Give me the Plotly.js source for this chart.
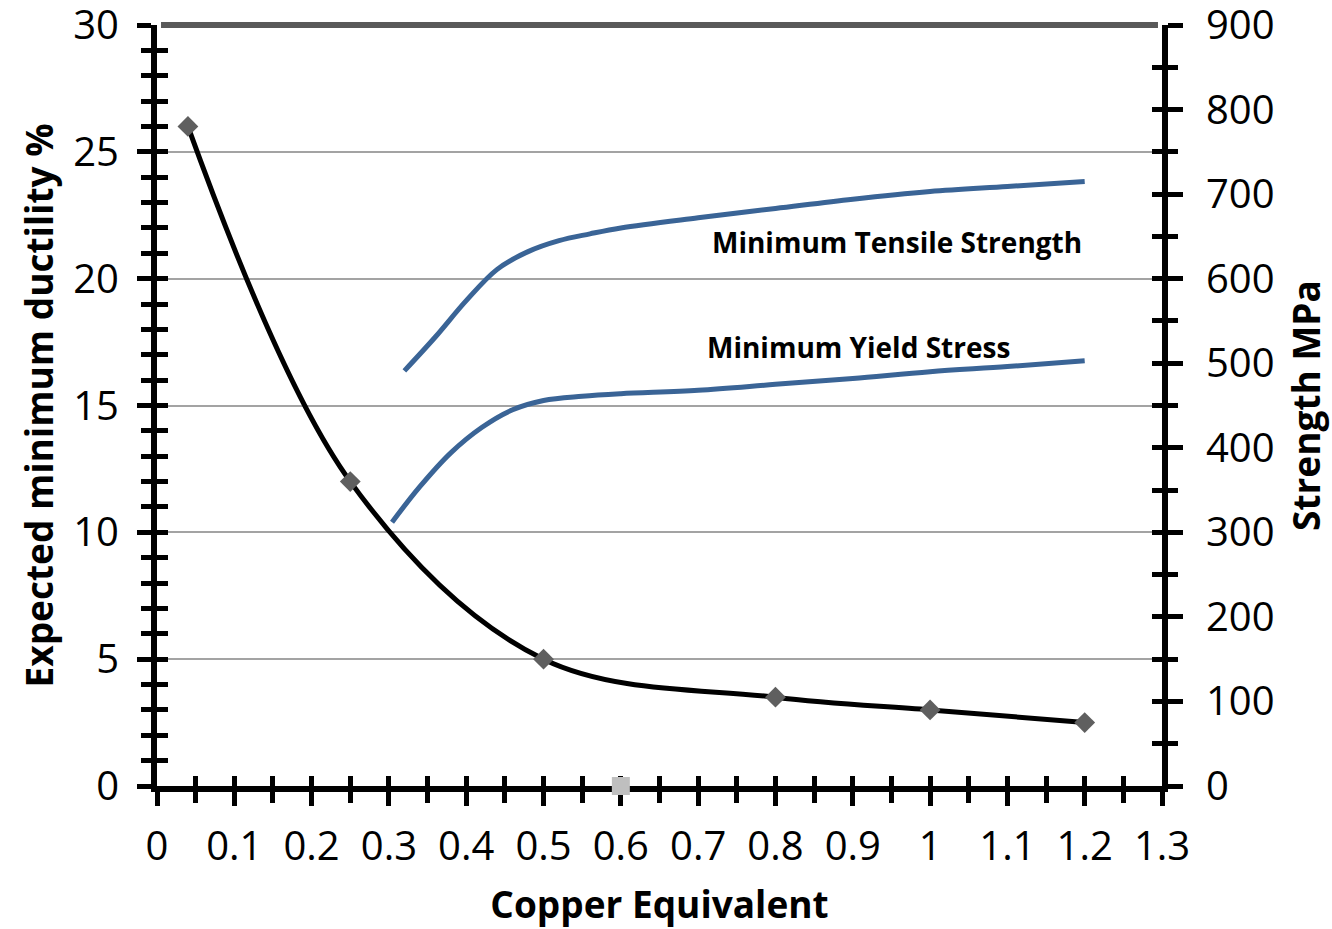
<!DOCTYPE html>
<html>
<head>
<meta charset="utf-8">
<script src="https://cdn.plot.ly/plotly-3.0.1.min.js"></script>
<style>html,body{margin:0;padding:0;background:#fff;}#chart{width:1332px;height:929px;}</style>
</head>
<body>
<div id="chart"></div>
<script>
// Ductility data (left axis, %)
const ductCE = [0.04, 0.25, 0.5, 0.8, 1.0, 1.2];
const ductVal = [26, 12, 5, 3.5, 3, 2.5];
// Extra grey point
const greyCE = [0.6];
const greyVal = [0];
// Minimum tensile strength (right axis, MPa)
const tensCE = [0.32, 0.36, 0.40, 0.44, 0.48, 0.52, 0.56, 0.60, 0.70, 0.80, 0.90, 1.00, 1.10, 1.20];
const tensVal = [491, 531, 574, 611, 632, 645, 653, 660, 672, 683, 694, 703, 709, 715];
// Minimum yield stress (right axis, MPa)
const yieldCE = [0.304, 0.34, 0.38, 0.42, 0.46, 0.50, 0.55, 0.60, 0.70, 0.80, 0.90, 1.00, 1.10, 1.20];
const yieldVal = [312, 354, 394, 424, 445, 456, 461, 464, 468, 475, 482, 490, 496, 503];
// Labels
const xTitle = "Copper Equivalent";
const yTitle = "Expected minimum ductility %";
const y2Title = "Strength MPa";
const tensLabel = "Minimum Tensile Strength";
const yieldLabel = "Minimum Yield Stress";

const FONT = "Open Sans, Liberation Sans, sans-serif";
const BLUE = "#3a6496";

const traces = [
  {x: tensCE, y: tensVal, xaxis: 'x', yaxis: 'y2', mode: 'lines', name: tensLabel,
   line: {color: BLUE, width: 5, shape: 'spline', smoothing: 1}},
  {x: yieldCE, y: yieldVal, xaxis: 'x', yaxis: 'y2', mode: 'lines', name: yieldLabel,
   line: {color: BLUE, width: 5, shape: 'spline', smoothing: 1}},
  {x: ductCE, y: ductVal, xaxis: 'x', yaxis: 'y', mode: 'lines+markers', name: 'Ductility',
   line: {color: '#000', width: 5, shape: 'spline', smoothing: 1},
   marker: {symbol: 'diamond', size: 16, color: '#5f5f5f'}},
  {x: greyCE, y: greyVal, xaxis: 'x', yaxis: 'y', mode: 'markers', name: 'point', cliponaxis: false,
   marker: {symbol: 'square', size: 18, color: '#bfbfbf'}},
  // empty helper traces so the overlay tick axes are drawn
  {x: [null], y: [null], xaxis: 'x2', yaxis: 'y3', mode: 'markers', hoverinfo: 'skip'},
  {x: [null], y: [null], xaxis: 'x3', yaxis: 'y4', mode: 'markers', hoverinfo: 'skip'}
];

const tickFont = {family: FONT, size: 40, color: '#000'};
const titleFont = {family: FONT, size: 37, color: '#000', weight: 'bold'};

const layout = {
  width: 1332, height: 929,
  margin: {l: 157, r: 170, t: 25, b: 143},
  paper_bgcolor: '#fff', plot_bgcolor: '#fff',
  showlegend: false,
  xaxis: {
    range: [0, 1.3], dtick: 0.1, tick0: 0,
    showgrid: false, zeroline: false,
    showline: true, linecolor: '#000', linewidth: 6,
    ticks: 'outside', ticklen: 14, tickwidth: 5, tickcolor: '#000',
    minor: {dtick: 0.05, ticks: 'outside', ticklen: 11, tickwidth: 5, tickcolor: '#000', showgrid: false},
    tickfont: tickFont, ticklabelstandoff: 6, ticklabeloverflow: 'allow',
    title: {text: xTitle, font: titleFont, standoff: 37},
    layer: 'below traces'
  },
  xaxis2: {
    overlaying: 'x', anchor: 'y', side: 'bottom', range: [0, 1.3], dtick: 0.1, tick0: 0,
    showgrid: false, zeroline: false, showline: false, showticklabels: false,
    ticks: 'inside', ticklen: 10, tickwidth: 5, tickcolor: '#000',
    minor: {dtick: 0.05, ticks: 'inside', ticklen: 10, tickwidth: 5, tickcolor: '#000', showgrid: false},
    layer: 'below traces'
  },
  xaxis3: {
    overlaying: 'x', anchor: 'y', side: 'top', range: [0, 1.3],
    showgrid: false, zeroline: false, showline: false,
    ticks: '', showticklabels: false, layer: 'below traces'
  },
  yaxis: {
    range: [0, 30], dtick: 5, tick0: 0,
    showgrid: true, gridcolor: '#a3a3a3', gridwidth: 2, zeroline: false,
    showline: true, linecolor: '#000', linewidth: 6,
    ticks: 'outside', ticklen: 14, tickwidth: 5, tickcolor: '#000',
    minor: {dtick: 1, ticks: 'outside', ticklen: 10, tickwidth: 5, tickcolor: '#000', showgrid: false},
    tickfont: tickFont, ticklabelstandoff: 10, ticklabeloverflow: 'allow',
    title: {text: yTitle, font: titleFont, standoff: 10},
    layer: 'below traces'
  },
  yaxis3: {
    overlaying: 'y', anchor: 'x', side: 'left', range: [0, 30], dtick: 5, tick0: 0,
    showgrid: false, zeroline: false, showline: false, showticklabels: false,
    ticks: 'inside', ticklen: 11, tickwidth: 5, tickcolor: '#000',
    minor: {dtick: 1, ticks: 'inside', ticklen: 11, tickwidth: 5, tickcolor: '#000', showgrid: false},
    layer: 'below traces'
  },
  yaxis2: {
    overlaying: 'y', anchor: 'x', side: 'right', range: [0, 900], dtick: 100, tick0: 0,
    showgrid: false, zeroline: false,
    showline: true, linecolor: '#000', linewidth: 6,
    ticks: 'outside', ticklen: 15, tickwidth: 5, tickcolor: '#000',
    minor: {dtick: 50, ticks: 'outside', ticklen: 10, tickwidth: 5, tickcolor: '#000', showgrid: false},
    tickfont: tickFont, ticklabelstandoff: 15, ticklabeloverflow: 'allow',
    title: {text: y2Title, font: titleFont, standoff: 22},
    layer: 'below traces'
  },
  yaxis4: {
    overlaying: 'y', anchor: 'x', side: 'right', range: [0, 900], dtick: 100, tick0: 0,
    showgrid: false, zeroline: false, showline: false, showticklabels: false,
    ticks: 'inside', ticklen: 10, tickwidth: 5, tickcolor: '#000',
    minor: {dtick: 50, ticks: 'inside', ticklen: 10, tickwidth: 5, tickcolor: '#000', showgrid: false},
    layer: 'below traces'
  },
  shapes: [
    // dark grey top border of the plot area
    {type: 'line', xref: 'paper', yref: 'paper', x0: 0.004, x1: 0.996, y0: 1, y1: 1,
     line: {color: '#595959', width: 6}, layer: 'above'}
  ],
  annotations: [
    {x: 0.957, y: 21.44, xref: 'x', yref: 'y', text: tensLabel, showarrow: false,
     font: {family: FONT, size: 28, color: '#000', weight: 'bold'}},
    {x: 0.908, y: 17.3, xref: 'x', yref: 'y', text: yieldLabel, showarrow: false,
     font: {family: FONT, size: 28, color: '#000', weight: 'bold'}}
  ]
};

Plotly.newPlot('chart', traces, layout, {displayModeBar: false, staticPlot: true});
</script>
</body>
</html>
